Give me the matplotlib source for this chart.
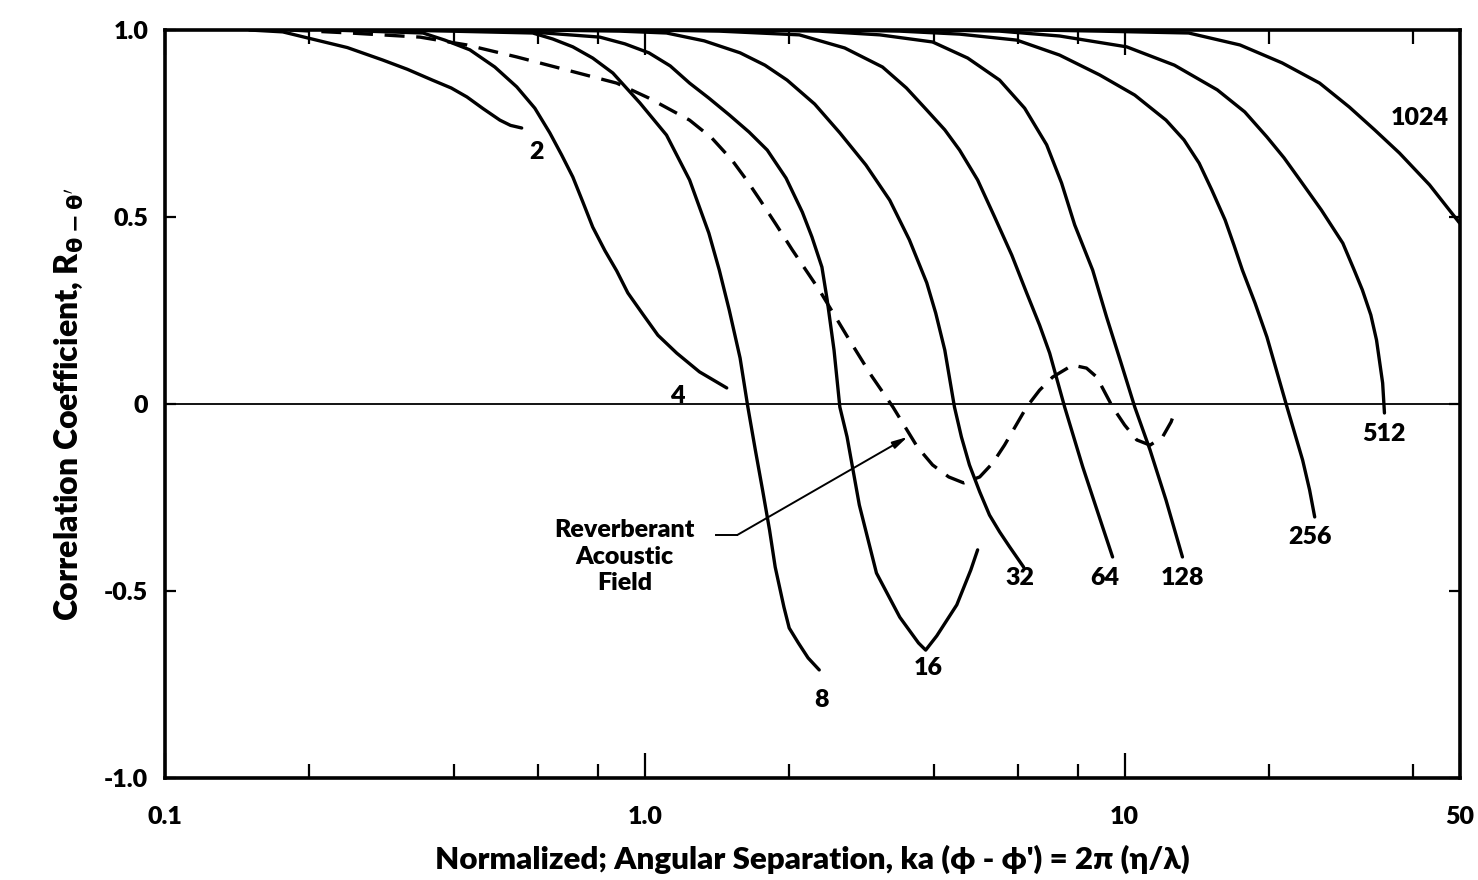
import numpy as np
import matplotlib.pyplot as plt
from matplotlib.ticker import FixedLocator, NullFormatter

# Base fonts - Futura-like look is not available, Lato is the closest geometric sans
plt.rcParams['font.family'] = ['Lato', 'DejaVu Sans']
plt.rcParams['font.weight'] = 'heavy'
plt.rcParams['axes.labelweight'] = 'heavy'
plt.rcParams['mathtext.fontset'] = 'dejavusans'

# Correlation curves, keyed by the label next to each curve
x_2 = [0.15, 0.176, 0.198, 0.24, 0.284, 0.32, 0.361, 0.395, 0.426, 0.46, 0.499, 0.525, 0.554]
y_2 = [1.0, 0.995, 0.979, 0.953, 0.92, 0.895, 0.866, 0.845, 0.821, 0.79, 0.759, 0.745, 0.738]

x_4 = [0.221, 0.345, 0.383, 0.432, 0.487, 0.541, 0.590, 0.634, 0.671, 0.708, 0.743, 0.779, 0.826,
       0.874, 0.922, 0.991, 1.065, 1.166, 1.30, 1.482]
y_4 = [1.0, 0.992, 0.973, 0.947, 0.901, 0.848, 0.791, 0.725, 0.666, 0.607, 0.540, 0.473, 0.410,
       0.356, 0.297, 0.240, 0.184, 0.136, 0.086, 0.043]

x_8 = [0.30, 0.393, 0.584, 0.643, 0.708, 0.779, 0.858, 0.977, 1.11, 1.24, 1.36, 1.43, 1.50, 1.58,
       1.64, 1.70, 1.76, 1.82, 1.87, 1.95, 2.00, 2.09, 2.19, 2.31]
y_8 = [1.0, 0.997, 0.992, 0.976, 0.955, 0.925, 0.885, 0.805, 0.719, 0.599, 0.457, 0.358, 0.251, 0.123,
       -0.008, -0.123, -0.230, -0.337, -0.436, -0.543, -0.599, -0.639, -0.679, -0.711]

x_16 = [0.40, 0.549, 0.806, 0.909, 1.02, 1.13, 1.24, 1.36, 1.50, 1.65, 1.80, 1.97, 2.13, 2.23, 2.34,
        2.40, 2.48, 2.55, 2.64, 2.80, 3.04, 3.40, 3.72, 3.85, 4.06, 4.47, 4.78, 4.94]
y_16 = [1.0, 0.997, 0.981, 0.963, 0.939, 0.904, 0.858, 0.818, 0.773, 0.727, 0.679, 0.604, 0.513, 0.447,
        0.366, 0.278, 0.144, -0.008, -0.088, -0.270, -0.452, -0.570, -0.639, -0.658, -0.620, -0.537,
        -0.444, -0.390]

x_32 = [0.60, 0.887, 1.11, 1.33, 1.58, 1.78, 1.98, 2.26, 2.55, 2.89, 3.24, 3.56, 3.87, 4.04, 4.22,
        4.42, 4.57, 4.75, 4.99, 5.23, 5.49, 5.76, 6.16]
y_32 = [1.0, 0.997, 0.992, 0.971, 0.939, 0.906, 0.866, 0.802, 0.725, 0.639, 0.545, 0.439, 0.324, 0.243,
        0.144, -0.008, -0.088, -0.163, -0.235, -0.297, -0.342, -0.382, -0.436]

x_64 = [1.0, 1.43, 2.10, 2.61, 3.13, 3.51, 3.87, 4.22, 4.53, 4.94, 5.36, 5.82, 6.25, 6.65, 6.98,
        7.50, 8.18, 9.00, 9.44]
y_64 = [1.0, 0.997, 0.987, 0.952, 0.901, 0.845, 0.786, 0.733, 0.679, 0.599, 0.500, 0.398, 0.297, 0.211,
        0.136, -0.008, -0.168, -0.329, -0.409]

x_128 = [1.6, 2.31, 3.09, 3.98, 4.71, 5.49, 6.19, 6.88, 7.39, 7.87, 8.58, 9.17, 9.82, 10.5, 11.3,
         12.2, 13.2]
y_128 = [1.0, 0.997, 0.987, 0.968, 0.925, 0.866, 0.791, 0.693, 0.591, 0.479, 0.358, 0.233, 0.112,
         -0.008, -0.123, -0.257, -0.409]

x_256 = [2.5, 3.40, 4.53, 5.96, 7.32, 8.87, 10.5, 12.2, 13.3, 14.3, 15.2, 16.2, 16.9, 17.6, 18.7,
         19.8, 21.8, 23.5, 24.3, 24.9]
y_256 = [1.0, 0.997, 0.989, 0.973, 0.933, 0.880, 0.826, 0.759, 0.706, 0.644, 0.572, 0.492, 0.425,
         0.358, 0.270, 0.179, -0.008, -0.150, -0.230, -0.302]

x_512 = [4.0, 5.49, 7.32, 10.1, 12.7, 15.6, 17.8, 19.8, 21.5, 23.2, 25.7, 28.5, 30.1, 31.3, 32.6,
         33.5, 34.5, 34.8]
y_512 = [1.0, 0.997, 0.984, 0.955, 0.906, 0.840, 0.781, 0.714, 0.658, 0.599, 0.519, 0.430, 0.358,
         0.305, 0.238, 0.171, 0.056, -0.024]

x_1024 = [6.5, 8.87, 13.6, 17.4, 21.3, 25.5, 29.4, 33.2, 37.4, 43.2, 49.9]
y_1024 = [1.0, 0.997, 0.992, 0.960, 0.912, 0.858, 0.794, 0.733, 0.671, 0.586, 0.484]

# Reverberant acoustic field (dashed)
x_rev = [0.182, 0.243, 0.340, 0.426, 0.541, 0.688, 0.874, 1.02, 1.24, 1.38, 1.52, 1.63, 1.74, 1.88,
         2.03, 2.31, 2.67, 2.97, 3.29, 3.70, 3.98, 4.30, 4.62, 4.99, 5.31, 5.62, 6.25, 6.65, 7.08,
         7.79, 8.33, 8.75, 9.44, 10.0, 10.6, 11.3, 12.0, 12.5, 12.8]
y_rev = [1.0, 0.992, 0.981, 0.960, 0.928, 0.893, 0.858, 0.818, 0.759, 0.711, 0.652, 0.599, 0.545, 0.479,
         0.412, 0.305, 0.171, 0.075, -0.008, -0.115, -0.163, -0.195, -0.211, -0.195, -0.158, -0.110,
         -0.008, 0.037, 0.072, 0.104, 0.096, 0.072, -0.008, -0.056, -0.096, -0.110, -0.088, -0.048,
         -0.011]

curves = [(x_2, y_2), (x_4, y_4), (x_8, y_8), (x_16, y_16), (x_32, y_32), (x_64, y_64),
          (x_128, y_128), (x_256, y_256), (x_512, y_512), (x_1024, y_1024)]

# Curve labels and where they sit
curve_labels = ['2', '4', '8', '16', '32', '64', '128', '256', '512', '1024']
label_x = [0.596, 1.17, 2.34, 3.89, 6.04, 9.08, 13.2, 24.3, 34.8, 41.2]
label_y = [0.674, 0.021, -0.791, -0.706, -0.465, -0.465, -0.465, -0.356, -0.080, 0.765]

x_ticks = [0.1, 1, 10, 50]
x_tick_labels = ['0.1', '1.0', '10', '50']
x_minor = [0.2, 0.4, 0.6, 0.8, 2, 4, 6, 8, 20, 40]
y_ticks = [-1.0, -0.5, 0, 0.5, 1.0]
y_tick_labels = ['-1.0', '-0.5', '0', '0.5', '1.0']

fig = plt.figure(figsize=(14.78, 8.8), dpi=100)
ax = fig.add_axes([0.1116, 0.1159, 0.8762, 0.8500])

for xs, ys in curves:
  ax.plot(xs, ys, color='black', lw=2.4, solid_joinstyle='round', solid_capstyle='round')

ax.plot(x_rev, y_rev, color='black', lw=2.4, dashes=(6, 3.5))

# Zero reference line
ax.axhline(0, color='black', lw=1.3)

for txt, lx, ly in zip(curve_labels, label_x, label_y):
  ax.text(lx, ly, txt, fontsize=18, ha='center', va='center')

# Reverberant field label with leader line and arrow
ax.text(0.908, -0.409, 'Reverberant\nAcoustic\nField', fontsize=18, ha='center', va='center',
        linespacing=1.25)
ax.plot([1.41, 1.56], [-0.350, -0.350], color='black', lw=1.4)
ax.annotate('', xy=(3.53, -0.088), xytext=(1.56, -0.350),
            arrowprops=dict(arrowstyle='-|>,head_length=0.9,head_width=0.22', color='black', lw=1.4,
                            shrinkA=0, shrinkB=0))

ax.set_xscale('log')
ax.set_xlim(0.1, 50)
ax.set_ylim(-1, 1)

ax.xaxis.set_major_locator(FixedLocator(x_ticks))
ax.set_xticklabels(x_tick_labels)
ax.xaxis.set_minor_locator(FixedLocator(x_minor))
ax.xaxis.set_minor_formatter(NullFormatter())
ax.set_yticks(y_ticks)
ax.set_yticklabels(y_tick_labels)

ax.tick_params(axis='x', which='major', direction='in', length=18, width=1.6, top=True, pad=20, labelsize=18)
ax.tick_params(axis='x', which='minor', direction='in', length=10, width=1.6, top=True)
ax.tick_params(axis='y', which='major', direction='in', length=8, width=1.6, right=True, pad=12, labelsize=18)

for s in ax.spines.values():
  s.set_linewidth(2.6)

ax.set_xlabel("Normalized; Angular Separation, ka (\u03d5 - \u03d5') = 2\u03c0 (\u03b7/\u03bb)", fontsize=22.5,
              fontweight='heavy', labelpad=12)
ax.set_ylabel(r"Correlation Coefficient, R$_{\mathbf{\theta - \theta'}}$", fontsize=23,
              fontweight='heavy', labelpad=14)

fig.savefig('out.png', dpi=100, facecolor='white')
